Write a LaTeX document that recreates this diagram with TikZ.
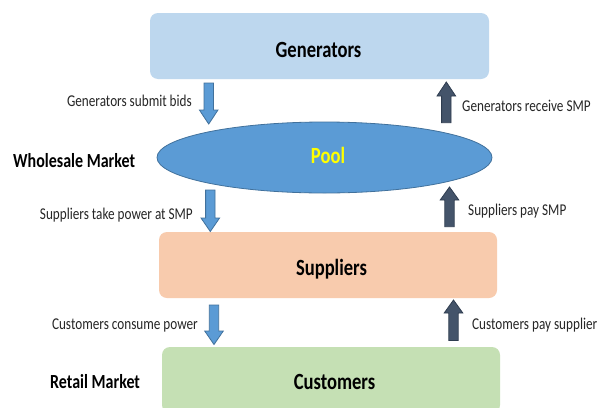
\documentclass[tikz,border=0pt]{standalone}
\usepackage{fontspec}
\setmainfont{Carlito}[FakeStretch=0.8]
\usetikzlibrary{shapes.geometric}
\definecolor{genfill}{HTML}{BDD7EE}
\definecolor{supfill}{HTML}{F8CBAD}
\definecolor{cusfill}{HTML}{C5E0B4}
\definecolor{poolfill}{HTML}{5B9BD5}
\definecolor{poolline}{HTML}{41719C}
\definecolor{uparrfill}{HTML}{44546A}
\definecolor{uparrline}{HTML}{2F3D50}
\definecolor{labtext}{HTML}{262626}
\tikzset{
  box/.style={rectangle, rounded corners=8pt, inner sep=0pt, draw=none},
  bigtext/.style={font=\fontsize{23.2}{27}\selectfont\bfseries, text=black, inner sep=0pt},
  sidetext/.style={font=\fontsize{20}{24}\selectfont\bfseries, text=black, inner sep=0pt},
  smalltext/.style={font=\fontsize{16.5}{20}\selectfont, text=labtext, inner sep=0pt},
  downarr/.style={fill=poolfill, draw=poolline, line width=0.8pt, line join=miter},
  uparr/.style={fill=uparrfill, draw=uparrline, line width=0.8pt, line join=miter},
}
% #1 style, #2 cx, #3 top y, #4 shaft length, #5 head length
\newcommand\blkdown[5]{\draw[#1] (#2,#3) ++(-4.7,0) -- ++(9.4,0) -- ++(0,#4) -- ++(4.6,0) -- ++(-9.3,#5) -- ++(-9.3,-#5) -- ++(4.6,0) -- cycle;}
% #1 style, #2 cx, #3 bottom y, #4 shaft length, #5 head length
\newcommand\blkup[5]{\draw[#1] (#2,#3) ++(-4.7,0) -- ++(9.4,0) -- ++(0,-#4) -- ++(4.6,0) -- ++(-9.3,-#5) -- ++(-9.3,#5) -- ++(4.6,0) -- cycle;}
\begin{document}
\begin{tikzpicture}[x=1pt,y=-1pt]
\useasboundingbox (0,0) rectangle (601,407);
\clip (0,0) rectangle (601,407);
\fill[white] (0,0) rectangle (601,407);

% boxes
\node[box, fill=genfill, minimum width=339pt, minimum height=66pt] (gen) at (319.5,46) {};
\node[box, fill=supfill, minimum width=338pt, minimum height=66pt] (sup) at (328,265) {};
\node[box, fill=cusfill, minimum width=338pt, minimum height=66pt] (cus) at (331,380) {};
\node[ellipse, fill=poolfill, draw=poolline, line width=0.8pt, minimum width=335pt, minimum height=71pt, inner sep=0pt] (pool) at (324.5,157.5) {};

% box texts
\node[bigtext, anchor=base] (gent) at (318.5,57) {Generators};
\node[bigtext, anchor=base, text={rgb,255:red,255;green,255;blue,0}] (poolt) at (328,163.5) {Pool};
\node[bigtext, anchor=base] (supt) at (331.5,275) {Suppliers};
\node[bigtext, anchor=base] (cust) at (334.5,389) {Customers};

% side titles
\node[sidetext, anchor=base west] (whole) at (13,167) {Wholesale Market};
\node[sidetext, anchor=base west] (retail) at (50,388) {Retail Market};

% arrows
\blkdown{downarr}{208.7}{83}{27}{14}
\blkdown{downarr}{210.3}{190}{28}{13.5}
\blkdown{downarr}{214}{305}{26}{13.5}
\blkup{uparr}{446.3}{122.7}{26.7}{14}
\blkup{uparr}{449.5}{226.7}{26.7}{13}
\blkup{uparr}{453.5}{340.5}{27.5}{13}

% arrow labels
\node[smalltext, anchor=base east] (l1) at (192,106) {Generators submit bids};
\node[smalltext, anchor=base east] (l2) at (193,219) {Suppliers take power at SMP};
\node[smalltext, anchor=base east] (l3) at (198,329) {Customers consume power};
\node[smalltext, anchor=base west] (r1) at (462,111) {Generators receive SMP};
\node[smalltext, anchor=base west] (r2) at (468,215) {Suppliers pay SMP};
\node[smalltext, anchor=base west] (r3) at (472,329) {Customers pay supplier};
\end{tikzpicture}
\end{document}
